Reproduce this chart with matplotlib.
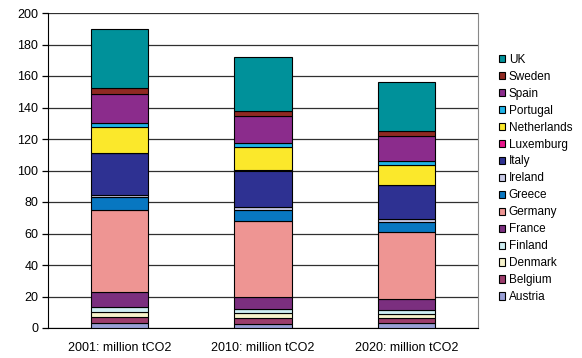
import matplotlib.pyplot as plt
from matplotlib.patches import Patch

plt.rcParams['font.family'] = ['Liberation Sans', 'DejaVu Sans']

categories = ['2001: million tCO2', '2010: million tCO2', '2020: million tCO2']

# stacked from the bottom up
countries = ['Austria', 'Belgium', 'Denmark', 'Finland', 'France', 'Germany',
             'Greece', 'Ireland', 'Italy', 'Luxemburg', 'Netherlands',
             'Portugal', 'Spain', 'Sweden', 'UK']

austria = [3.0, 2.5, 3.0]
belgium = [3.8, 3.7, 3.2]
denmark = [3.2, 3.1, 2.5]
finland = [3.1, 2.8, 2.7]
france = [9.5, 7.8, 7.0]
germany = [52.3, 48.0, 42.4]
greece = [8.1, 7.0, 6.7]
ireland = [1.6, 1.7, 1.7]
italy = [26.4, 23.4, 21.6]
luxemburg = [0.3, 0.3, 0.3]
netherlands = [16.1, 14.8, 12.5]
portugal = [2.6, 2.6, 2.3]
spain = [18.3, 17.1, 15.9]
sweden = [4.3, 3.0, 3.2]
uk = [37.4, 34.0, 31.0]

colors = ['#9AA0D6', '#9C3D6C', '#F7F3CC', '#CFEFF3', '#7B2F7F', '#EE9593',
          '#0877C1', '#C9CAE6', '#2E3192', '#E8168B', '#FBE82B',
          '#1FB3E8', '#8B2C8C', '#902A22', '#00919A']

series = [austria, belgium, denmark, finland, france, germany, greece,
          ireland, italy, luxemburg, netherlands, portugal, spain, sweden, uk]

fig = plt.figure(figsize=(5.82, 3.58), dpi=100)
ax = fig.add_axes([48 / 582, 30 / 358, 430 / 582, 315 / 358])

x = range(len(categories))
bottom = [0.0] * len(categories)
for name, vals, col in zip(countries, series, colors):
    ax.bar(
        x, vals,
        width=0.4,
        bottom=bottom,
        color=col,
        edgecolor='black',
        linewidth=0.8,
        label=name,
        zorder=3)
    bottom = [b + v for b, v in zip(bottom, vals)]

ax.set_xlim(-0.5, 2.5)
ax.set_ylim(0, 200)
ax.set_yticks(range(0, 201, 20))
ax.set_xticks(list(x))
ax.set_xticklabels(categories)
ax.yaxis.grid(True, color='#303030', linewidth=0.9, zorder=0)
ax.tick_params(
    axis='y',
    direction='out',
    length=4,
    width=0.9,
    labelsize=9,
    pad=3)
ax.tick_params(
    axis='x',
    length=0,
    labelsize=9,
    pad=10)
ax.spines['left'].set_color('black')
ax.spines['bottom'].set_color('black')
ax.spines['right'].set_color('#888888')
ax.spines['top'].set_visible(False)

handles = [Patch(facecolor=c, edgecolor='black', linewidth=0.8)
           for c in colors][::-1]
fig.legend(
    handles, countries[::-1],
    loc='upper left',
    bbox_to_anchor=(494 / 582, 1 - 49 / 358),
    frameon=False,
    fontsize=8.5,
    handlelength=0.55,
    handleheight=0.55,
    handletextpad=0.3,
    labelspacing=0.42,
    borderaxespad=0)

plt.savefig('out.png')
plt.close(fig)
